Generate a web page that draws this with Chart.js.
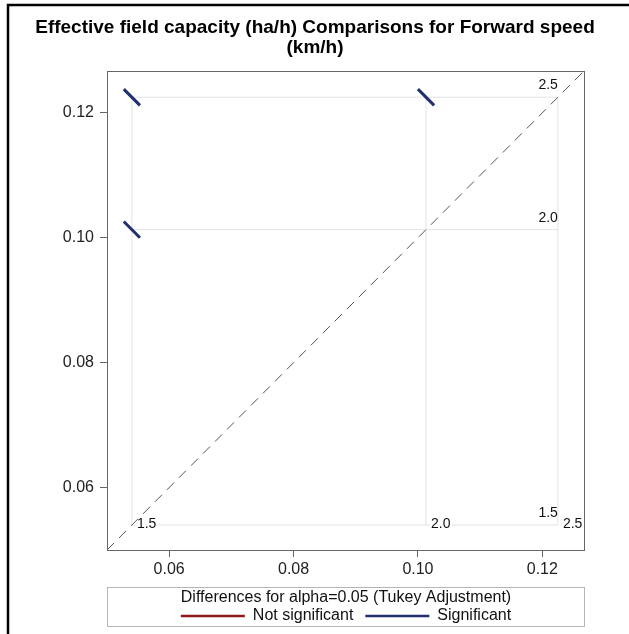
<!DOCTYPE html>
<html>
<head>
<meta charset="utf-8">
<script src="https://cdn.jsdelivr.net/npm/chart.js@4.4.1/dist/chart.umd.min.js"></script>
<style>
html, body { margin: 0; padding: 0; background: #fff; }
canvas { display: block; }
</style>
</head>
<body>
<canvas id="myChart" width="629" height="634"></canvas>
<script>
// levels of forward speed (km/h) and their LS-means of field capacity (ha/h)
var levels = ['1.5', '2.0', '2.5'];
var means = [0.0540, 0.1013, 0.1225];
// pairwise comparisons: x level, y level, half length of the CI segment, significant?
var pairX = [0, 0, 1];
var pairY = [2, 1, 2];
var pairHalf = [0.0013, 0.0013, 0.0013];
var pairSig = [true, true, true];
var tickVals = [0.06, 0.08, 0.10, 0.12];
var axisMin = 0.05, axisMax = 0.1267;

var titleLines = ['Effective field capacity (ha/h) Comparisons for Forward speed', '(km/h)'];
var legendTitle = 'Differences for alpha=0.05 (Tukey Adjustment)';
var legendLabels = ['Not significant', 'Significant'];
var legendColors = ['#8c1c1c', '#20306f'];

var FONT = '"Liberation Sans", Arial, sans-serif';
var lo = Math.min.apply(null, means);
var hi = Math.max.apply(null, means);

var datasets = [];
means.forEach(function (m) {
  datasets.push({ data: [{x: m, y: lo}, {x: m, y: hi}], borderColor: '#e3e3e3', borderWidth: 1, order: 3 });
  datasets.push({ data: [{x: lo, y: m}, {x: hi, y: m}], borderColor: '#e3e3e3', borderWidth: 1, order: 3 });
});
datasets.push({
  data: [{x: axisMin, y: axisMin}, {x: axisMax, y: axisMax}],
  borderColor: '#555', borderWidth: 1, borderDash: [10, 7], order: 2, isDiagonal: true
});
pairX.forEach(function (xi, k) {
  var cx = means[xi], cy = means[pairY[k]], d = pairHalf[k];
  datasets.push({
    data: [{x: cx - d, y: cy + d}, {x: cx + d, y: cy - d}],
    borderColor: pairSig[k] ? legendColors[1] : legendColors[0],
    borderWidth: 3, borderCapStyle: 'butt', order: 1
  });
});

var decor = {
  id: 'decor',
  beforeDraw: function (chart) {
    var c = chart.ctx;
    c.save();
    c.fillStyle = '#fff';
    c.fillRect(0, 0, chart.width, chart.height);
    c.strokeStyle = '#000';
    c.lineWidth = 2.5;
    c.beginPath();
    c.moveTo(8, chart.height);
    c.lineTo(8, 5);
    c.lineTo(chart.width, 5);
    c.stroke();
    // title
    c.fillStyle = '#000';
    c.font = 'bold 19px ' + FONT;
    c.textAlign = 'center';
    c.textBaseline = 'middle';
    c.fillText(titleLines[0], 315, 28);
    c.fillText(titleLines[1], 315, 48);
    c.restore();
  },
  beforeDatasetDraw: function (chart, args) {
    if (!chart.data.datasets[args.index].isDiagonal) return;
    var c = chart.ctx, xs = chart.scales.x, ys = chart.scales.y;
    c.save();
    c.font = '14px ' + FONT;
    c.textBaseline = 'alphabetic';
    var yb = ys.getPixelForValue(lo);
    var xr = xs.getPixelForValue(hi);
    means.forEach(function (m, i) {
      // labels for vertical reference lines, along the bottom
      var x = xs.getPixelForValue(m) + 5;
      var w = c.measureText(levels[i]).width;
      c.fillStyle = '#fff';
      c.fillRect(x - 1, yb - 10, w + 2, 13);
      c.fillStyle = '#111';
      c.textAlign = 'left';
      c.fillText(levels[i], x, yb + 3);
      // labels for horizontal reference lines, along the right side
      var y = ys.getPixelForValue(m) - 8;
      c.textAlign = 'right';
      c.fillText(levels[i], xr, y);
    });
    c.restore();
  },
  afterDraw: function (chart) {
    var c = chart.ctx, a = chart.chartArea;
    c.save();
    c.strokeStyle = '#666';
    c.lineWidth = 1;
    c.strokeRect(Math.round(a.left) + 0.5, Math.round(a.top) + 0.5, Math.round(a.right - a.left), Math.round(a.bottom - a.top));
    // legend box
    c.strokeStyle = '#b5b5b5';
    c.strokeRect(107.5, 587.5, 477, 39);
    c.fillStyle = '#111';
    c.font = '16px ' + FONT;
    c.textAlign = 'center';
    c.textBaseline = 'middle';
    c.fillText(legendTitle, 346, 598);
    var lineW = 64, gapA = 8, gapB = 12;
    var total = 0;
    legendLabels.forEach(function (t, i) {
      total += lineW + gapA + c.measureText(t).width + (i < legendLabels.length - 1 ? gapB : 0);
    });
    var x = 346 - total / 2;
    c.textAlign = 'left';
    legendLabels.forEach(function (t, i) {
      c.strokeStyle = legendColors[i];
      c.lineWidth = 2.5;
      c.beginPath();
      c.moveTo(x, 616);
      c.lineTo(x + lineW, 616);
      c.stroke();
      x += lineW + gapA;
      c.fillText(t, x, 616);
      x += c.measureText(t).width + gapB;
    });
    c.restore();
  }
};

function axisOpts(isX) {
  return {
    type: 'linear',
    min: axisMin,
    max: axisMax,
    border: { display: false },
    grid: { drawOnChartArea: false, drawTicks: true, tickLength: 7, tickColor: '#666' },
    ticks: {
      color: '#222',
      font: { family: FONT, size: 16 },
      padding: isX ? 3 : 6,
      callback: function (v) { return v.toFixed(2); }
    },
    afterBuildTicks: function (s) { s.ticks = tickVals.map(function (v) { return {value: v}; }); },
    afterFit: function (s) { if (isX) s.height = 30; else s.width = 107; }
  };
}

var ctx = document.getElementById('myChart');
var myChart = new Chart(ctx, {
  type: 'scatter',
  data: { datasets: datasets },
  options: {
    responsive: false,
    animation: false,
    showLine: true,
    elements: { point: { radius: 0, hoverRadius: 0 }, line: { tension: 0 } },
    layout: { padding: { left: 0, top: 71, right: 45, bottom: 54 } },
    scales: { x: axisOpts(true), y: axisOpts(false) },
    plugins: { legend: { display: false }, title: { display: false }, tooltip: { enabled: false } }
  },
  plugins: [decor]
});
</script>
</body>
</html>
